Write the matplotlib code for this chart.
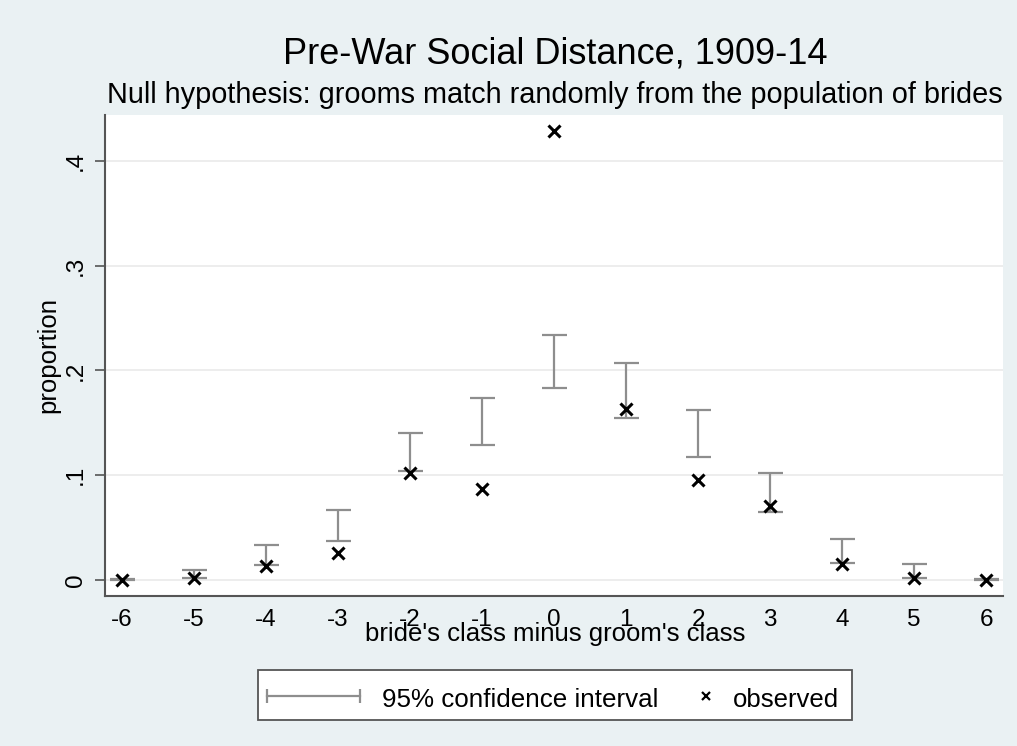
import matplotlib
matplotlib.use("Agg")
import matplotlib.pyplot as plt
from matplotlib.lines import Line2D
from matplotlib.patches import Rectangle

# ---- data ----
diff = [-6, -5, -4, -3, -2, -1, 0, 1, 2, 3, 4, 5, 6]
observed = [0.000, 0.002, 0.013, 0.026, 0.102, 0.087, 0.429, 0.163, 0.095, 0.071, 0.015, 0.002, 0.000]
ci_low = [0.000, 0.002, 0.014, 0.037, 0.104, 0.129, 0.183, 0.155, 0.117, 0.065, 0.016, 0.002, 0.000]
ci_high = [0.001, 0.0095, 0.033, 0.067, 0.140, 0.174, 0.234, 0.207, 0.162, 0.102, 0.039, 0.015, 0.001]
yticks = [0, 0.1, 0.2, 0.3, 0.4]
yticklabels = ["0", ".1", ".2", ".3", ".4"]

title = "Pre-War Social Distance, 1909-14"
subtitle = "Null hypothesis: grooms match randomly from the population of brides"
xlabel = "bride's class minus groom's class"
ylabel = "proportion"

plt.rcParams['font.family'] = ['Liberation Sans', 'DejaVu Sans']
BG = '#EAF1F3'
CI_COL = '#8E8E8E'
AX_COL = '#555555'

fig = plt.figure(figsize=(10.17, 7.46), dpi=100, facecolor=BG)
W, H = 1017, 746
ax = fig.add_axes([105 / W, 1 - 596 / H, (1003 - 105) / W, (596 - 115) / H])
ax.set_facecolor('white')

ax.set_xlim(-6.236, 6.236)
ax.set_ylim(-0.0153, 0.4439)

for y in yticks:
    ax.axhline(y, color='#EAEAEA', lw=1.2, zorder=0)

mid = [(l + h) / 2 for l, h in zip(ci_low, ci_high)]
half = [(h - l) / 2 for l, h in zip(ci_low, ci_high)]
ax.errorbar(diff, mid, yerr=half, fmt='none', ecolor=CI_COL, elinewidth=1.6,
            capsize=9, capthick=1.6, zorder=2)
ax.plot(diff, observed, linestyle='none', marker='x', color='black',
        markersize=8, markeredgewidth=2.2, zorder=3)

for s in ['top', 'right']:
    ax.spines[s].set_visible(False)
for s in ['left', 'bottom']:
    ax.spines[s].set_color(AX_COL)
    ax.spines[s].set_linewidth(1.5)

ax.set_xticks(diff)
ax.set_xticklabels([str(d) for d in diff], fontsize=17.5)
ax.set_yticks(yticks)
ax.set_yticklabels(yticklabels, fontsize=17.5, rotation=90, va='center')
ax.tick_params(axis='x', length=0, pad=9)
ax.tick_params(axis='y', direction='out', length=7, width=1.2, color=AX_COL, pad=6)

fig.text(555 / W, 1 - 641 / H, xlabel, fontsize=18.5, ha='center', va='baseline')
fig.text(48 / W, 1 - 355 / H, ylabel, fontsize=18.5, ha='center', va='center', rotation=90)

fig.text(555 / W, 1 - 63 / H, title, fontsize=26, ha='center', va='baseline')
fig.text(555 / W, 1 - 103 / H, subtitle, fontsize=20.8, ha='center', va='baseline')

# legend (manual, Stata style)
fig.patches.append(Rectangle((258 / W, 1 - 720 / H), (852 - 258) / W, 50 / H,
                             transform=fig.transFigure, facecolor='white',
                             edgecolor=AX_COL, lw=1.3, zorder=1))
ly = 1 - 696 / H
fig.lines.append(Line2D([267 / W, 360 / W], [ly, ly], transform=fig.transFigure,
                        color=CI_COL, lw=1.6, marker='|', markersize=10,
                        markeredgewidth=1.6, zorder=2))
fig.text(382 / W, 1 - 707 / H, "95% confidence interval", fontsize=18.7, ha='left', va='baseline')
fig.lines.append(Line2D([706 / W], [ly], transform=fig.transFigure, color='black',
                        marker='x', markersize=6, markeredgewidth=1.6,
                        linestyle='none', zorder=2))
fig.text(733 / W, 1 - 707 / H, "observed", fontsize=18.5, ha='left', va='baseline')

fig.savefig('out.png', dpi=100, facecolor=BG)
